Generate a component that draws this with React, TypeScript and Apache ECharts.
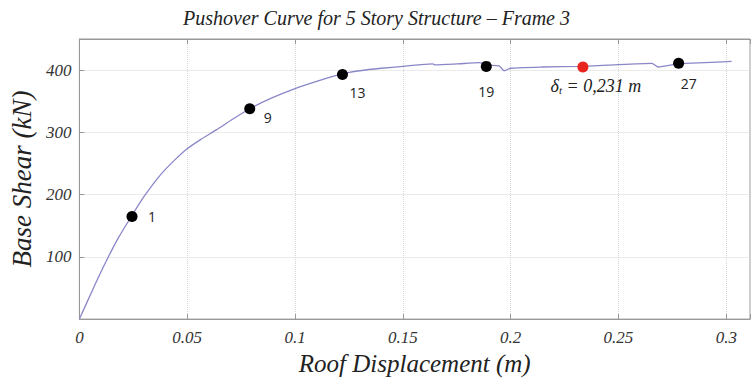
import React, { useEffect, useRef } from "react";
import * as echarts from "echarts";

const titleText = "Pushover Curve for 5 Story Structure \u2013 Frame 3";
const xAxisName = "Roof Displacement (m)";
const yAxisName = "Base Shear (kN)";

// Pushover curve (roof displacement m, base shear kN)
const curveX = [0, 0.006, 0.012, 0.018, 0.0243, 0.03, 0.0374, 0.044, 0.0497, 0.056, 0.0635, 0.071, 0.079, 0.089, 0.0997, 0.11, 0.1218, 0.13, 0.14, 0.15, 0.1638, 0.165, 0.175, 0.1854, 0.189, 0.1946, 0.197, 0.2, 0.215, 0.2316, 0.245, 0.2655, 0.2685, 0.2779, 0.29, 0.3025];
const curveY = [0, 46, 90, 130, 166, 197, 231, 255, 273, 288, 304, 321, 338, 355, 370, 382, 394, 399, 403, 406, 410, 408.5, 410, 412, 408, 407, 399, 403, 405, 406, 408, 411, 405, 410, 412, 414];

// Marked steps
const stepLabels = ["1", "9", "13", "19", "27"];
const stepX = [0.0244, 0.079, 0.122, 0.1887, 0.2779];
const stepY = [165, 338, 393, 406, 411];

// Target displacement point
const targetX = 0.2335;
const targetY = 405;

const xTicks = [0, 0.05, 0.1, 0.15, 0.2, 0.25, 0.3];
const yTicks = [100, 200, 300, 400];

export default function App() {
  const ref = useRef<HTMLDivElement>(null);
  useEffect(() => {
    if (!ref.current) return;
    const chart = echarts.init(ref.current, undefined, { renderer: "svg" });
    const labelOffsets: [number, number][] = [
      [20, 0],
      [18, 9],
      [15, 18],
      [0, 25],
      [10, 20],
    ];
    const serif = "'Liberation Serif', 'DejaVu Serif', serif";
    const axisCommon = {
      type: "value",
      axisLine: { show: true, lineStyle: { color: "#999" } },
      axisTick: { show: true, inside: true, length: 5, lineStyle: { color: "#999" } },
    };
    chart.setOption({
      animation: false,
      backgroundColor: "#fff",
      title: {
        text: titleText,
        left: "center",
        top: 3,
        textStyle: { fontFamily: serif, fontStyle: "italic", fontWeight: "normal", fontSize: 20, color: "#222" },
      },
      grid: { left: 79, top: 39, right: 0, bottom: 60, show: true, borderColor: "#999", borderWidth: 1 },
      xAxis: [
        {
          ...axisCommon,
          min: 0,
          max: 0.311,
          interval: 0.05,
          name: xAxisName,
          nameLocation: "middle",
          nameGap: 30,
          nameTextStyle: { fontFamily: serif, fontStyle: "italic", fontSize: 25, color: "#222" },
          axisLabel: {
            margin: 10,
            fontFamily: serif,
            fontStyle: "italic",
            fontSize: 17,
            color: "#333",
            formatter: (v: number) => {
              const r = xTicks.find((t) => Math.abs(t - v) < 1e-6);
              return r === undefined ? "" : String(r);
            },
          },
          splitLine: { show: true, lineStyle: { color: "#d6d6d6", type: "dotted" } },
        },
        {
          ...axisCommon,
          position: "top",
          min: 0,
          max: 0.311,
          interval: 0.05,
          axisLabel: { show: false },
          splitLine: { show: false },
        },
      ],
      yAxis: {
        ...axisCommon,
        min: 0,
        max: 450,
        interval: 100,
        name: yAxisName,
        nameLocation: "middle",
        nameGap: 44,
        nameRotate: 90,
        nameTextStyle: { fontFamily: serif, fontStyle: "italic", fontSize: 27, color: "#222" },
        axisLabel: {
          margin: 8,
          fontFamily: serif,
          fontStyle: "italic",
          fontSize: 17,
          color: "#333",
          formatter: (v: number) => (yTicks.indexOf(v) >= 0 ? String(v) : ""),
        },
        splitLine: { show: true, lineStyle: { color: "#d6d6d6", type: "dotted" } },
      },
      series: [
        {
          type: "line",
          data: curveX.map((x, i) => [x, curveY[i]]),
          showSymbol: false,
          symbol: "none",
          smooth: 0.2,
          lineStyle: { color: "#8a87c8", width: 1.3 },
          z: 2,
        },
        {
          type: "scatter",
          symbolSize: 11,
          itemStyle: { color: "#000", opacity: 1 },
          z: 3,
          data: stepX.map((x, i) => ({
            value: [x, stepY[i]],
            name: stepLabels[i],
            label: {
              show: true,
              position: "inside",
              offset: labelOffsets[i],
              formatter: stepLabels[i],
              fontFamily: "'Open Sans', 'DejaVu Sans', sans-serif",
              fontSize: 14,
              color: "#222",
            },
          })),
        },
        {
          type: "scatter",
          symbolSize: 11,
          itemStyle: { color: "#e8251f", opacity: 1 },
          z: 3,
          data: [
            {
              value: [targetX, targetY],
              label: {
                show: true,
                position: "inside",
                offset: [13, 19],
                formatter: "{d|\u03b4}{s|t}{n| = 0,231 m}",
                rich: {
                  d: { fontFamily: serif, fontStyle: "italic", fontSize: 18, color: "#222" },
                  s: { fontFamily: serif, fontStyle: "italic", fontSize: 11, color: "#222", verticalAlign: "bottom", padding: [7, 0, 0, 0] },
                  n: { fontFamily: serif, fontStyle: "italic", fontSize: 18, color: "#222" },
                },
              },
            },
          ],
        },
      ],
    });
    return () => chart.dispose();
  }, []);
  return <div ref={ref} style={{ width: 753, height: 381, position: "absolute", left: 0, top: 0 }} />;
}
